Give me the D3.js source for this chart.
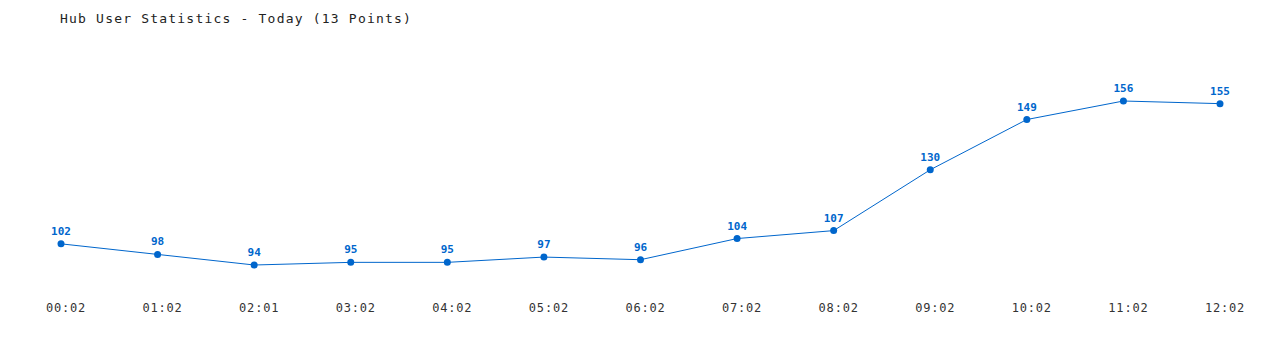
<!DOCTYPE html>
<html>
<head>
<meta charset="utf-8">
<script src="https://cdn.jsdelivr.net/npm/d3@7"></script>
<style>
  body { margin: 0; background: #fff; }
  svg { display: block; }
  .title { font-family: "DejaVu Sans Mono", monospace; font-size: 13px; letter-spacing: 1.2px; fill: #222; }
  .xlab { font-family: "DejaVu Sans Mono", monospace; font-size: 12px; letter-spacing: 0.8px; fill: #333; }
  .vlab { font-family: "DejaVu Sans Mono", monospace; font-size: 11px; font-weight: bold; fill: #0066cc; }
</style>
</head>
<body>
<svg width="1280" height="350"></svg>
<script>
const times = ["00:02", "01:02", "02:01", "03:02", "04:02", "05:02", "06:02",
               "07:02", "08:02", "09:02", "10:02", "11:02", "12:02"];
const users = [102, 98, 94, 95, 95, 97, 96, 104, 107, 130, 149, 156, 155];
const title = "Hub User Statistics - Today (13 Points)";

const svg = d3.select("svg");
const color = "#0066cc";

const x = d3.scalePoint()
    .domain(times)
    .range([61, 1220]);

const y = d3.scaleLinear()
    .domain([d3.min(users), d3.max(users)])
    .range([265, 101]);

const data = times.map((t, i) => ({ t: t, v: users[i] }));

svg.append("text")
    .attr("class", "title")
    .attr("x", 60)
    .attr("y", 23)
    .text(title);

svg.append("path")
    .datum(data)
    .attr("fill", "none")
    .attr("stroke", color)
    .attr("stroke-width", 1)
    .attr("d", d3.line().x(d => x(d.t)).y(d => y(d.v)));

svg.append("g")
    .selectAll("circle")
    .data(data)
    .enter().append("circle")
    .attr("cx", d => x(d.t))
    .attr("cy", d => y(d.v))
    .attr("r", 3.5)
    .attr("fill", color);

svg.append("g")
    .selectAll("text")
    .data(data)
    .enter().append("text")
    .attr("class", "vlab")
    .attr("x", d => x(d.t))
    .attr("y", d => y(d.v) - 9)
    .attr("text-anchor", "middle")
    .text(d => d.v);

svg.append("g")
    .selectAll("text")
    .data(data)
    .enter().append("text")
    .attr("class", "xlab")
    .attr("x", d => x(d.t) + 5)
    .attr("y", 312)
    .attr("text-anchor", "middle")
    .text(d => d.t);
</script>
</body>
</html>
